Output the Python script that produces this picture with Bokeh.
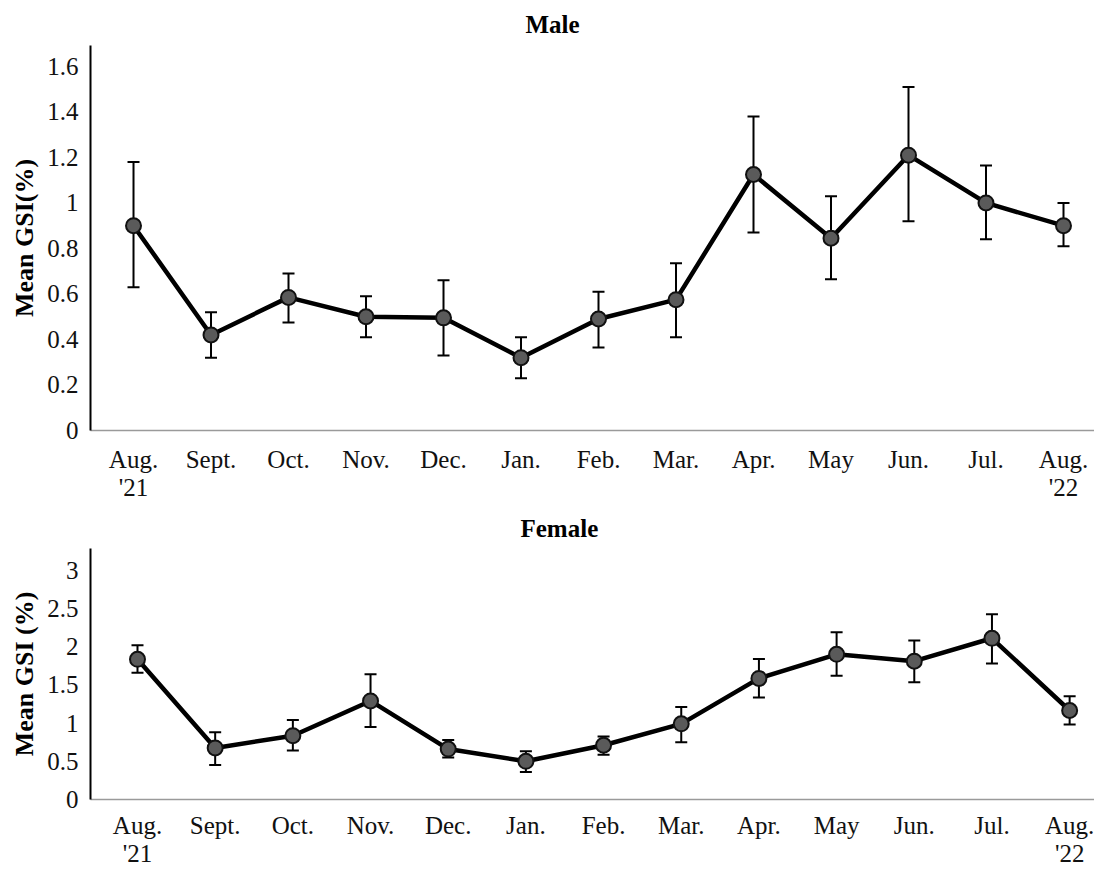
from bokeh.plotting import figure
from bokeh.layouts import column
from bokeh.models import Range1d, FixedTicker, PrintfTickFormatter
from bokeh.embed import file_html
from bokeh.resources import INLINE

months = ["Aug.\n'21", "Sept.", "Oct.", "Nov.", "Dec.", "Jan.", "Feb.", "Mar.",
          "Apr.", "May", "Jun.", "Jul.", "Aug.\n'22"]

male_mean = [0.90, 0.42, 0.585, 0.50, 0.495, 0.32, 0.49, 0.575, 1.125, 0.845, 1.21, 1.00, 0.90]
male_upper = [1.18, 0.52, 0.69, 0.59, 0.66, 0.41, 0.61, 0.735, 1.38, 1.03, 1.51, 1.165, 1.00]
male_lower = [0.63, 0.32, 0.475, 0.41, 0.33, 0.23, 0.365, 0.41, 0.87, 0.665, 0.92, 0.84, 0.81]

female_mean = [1.835, 0.675, 0.835, 1.29, 0.66, 0.50, 0.71, 0.99, 1.585, 1.90, 1.81, 2.11, 1.165]
female_upper = [2.02, 0.88, 1.04, 1.64, 0.78, 0.63, 0.825, 1.21, 1.84, 2.19, 2.08, 2.425, 1.35]
female_lower = [1.66, 0.45, 0.64, 0.95, 0.55, 0.36, 0.585, 0.75, 1.335, 1.62, 1.535, 1.78, 0.98]

male_yticks = [0, 0.2, 0.4, 0.6, 0.8, 1, 1.2, 1.4, 1.6]
female_yticks = [0, 0.5, 1, 1.5, 2, 2.5, 3]

FONT = "Liberation Serif"


def make_panel(title, ylabel, mean, upper, lower, yticks, ymax, xstart, xend,
               height, border_top, border_bottom, standoff, title_offset, title_standoff):
    x = list(range(len(months)))
    p = figure(width=1094, height=height, output_backend="svg", toolbar_location=None,
               x_range=Range1d(xstart, xend), y_range=Range1d(0, ymax),
               min_border_left=90, min_border_right=0,
               min_border_top=border_top, min_border_bottom=border_bottom)
    p.outline_line_color = None
    p.grid.visible = False
    p.background_fill_color = "white"

    p.title.text = title
    p.title.align = "left"
    p.title.offset = title_offset
    p.title.standoff = title_standoff
    p.title.text_font = FONT
    p.title.text_font_size = "25px"
    p.title.text_font_style = "bold"
    p.title.text_color = "black"

    # x axis
    xa = p.xaxis[0]
    xa.ticker = FixedTicker(ticks=x)
    xa.major_label_overrides = {i: m for i, m in enumerate(months)}
    xa.major_tick_line_color = None
    xa.minor_tick_line_color = None
    xa.major_tick_out = 0
    xa.axis_line_color = "#9a9a9a"
    xa.axis_line_width = 1.5
    xa.major_label_text_font = FONT
    xa.major_label_text_font_size = "25px"
    xa.major_label_text_color = "#111111"
    xa.major_label_text_line_height = 1.05
    xa.major_label_standoff = standoff

    # y axis
    ya = p.yaxis[0]
    ya.ticker = FixedTicker(ticks=yticks)
    ya.formatter = PrintfTickFormatter(format="%g")
    ya.major_tick_line_color = None
    ya.minor_tick_line_color = None
    ya.major_tick_out = 0
    ya.axis_line_color = "black"
    ya.axis_line_width = 2
    ya.major_label_text_font = FONT
    ya.major_label_text_font_size = "25px"
    ya.major_label_text_color = "#111111"
    ya.major_label_standoff = 12
    ya.axis_label = ylabel
    ya.axis_label_text_font = FONT
    ya.axis_label_text_font_size = "26px"
    ya.axis_label_text_font_style = "bold"
    ya.axis_label_text_color = "black"
    ya.axis_label_standoff = 5

    # error bars
    p.segment(x0=x, y0=lower, x1=x, y1=upper, line_color="black", line_width=2)
    p.scatter(x=x, y=upper, marker="dash", size=12, line_color="black", line_width=2)
    p.scatter(x=x, y=lower, marker="dash", size=12, line_color="black", line_width=2)

    # series
    p.line(x=x, y=mean, line_color="black", line_width=4.5)
    p.scatter(x=x, y=mean, marker="circle", size=15, fill_color="#5a5a5a",
              line_color="#111111", line_width=2)
    return p


top = make_panel("Male", "Mean GSI(%)", male_mean, male_upper, male_lower,
                 male_yticks, 1.692, -0.555, 12.4, 503, 45, 73, 15, 435, 15)
bottom = make_panel("Female", "Mean GSI (%)", female_mean, female_upper, female_lower,
                    female_yticks, 3.285, -0.605, 12.32, 366, 45, 69, 12, 430, 14)

layout = column(top, bottom, spacing=0)
open("out.html", "w").write(file_html(layout, INLINE))
